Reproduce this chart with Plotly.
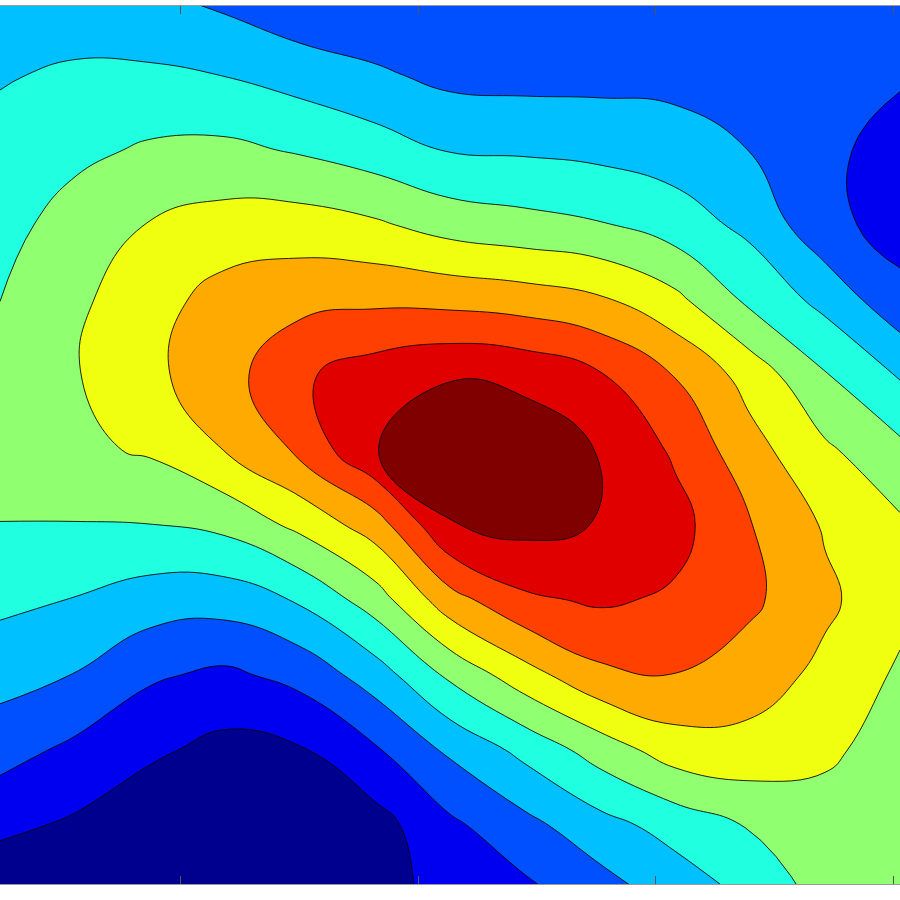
import plotly.graph_objects as go

# Grid positions (pixel-like data units)
x_vals = [0, 75, 150, 225, 300, 375, 450, 525, 600, 675, 750, 825, 900]
y_vals = [0, 75, 150, 225, 300, 375, 450, 525, 600, 675, 750, 825, 900]

# Field values, one list per row (top to bottom)
z_y0   = [3.58, 3.50, 3.20, 2.77, 2.20, 2.10, 2.20, 2.20, 2.15, 2.10, 2.20, 2.20, 2.30]
z_y75  = [3.93, 4.13, 4.16, 3.98, 3.59, 3.16, 2.73, 2.66, 2.68, 2.66, 2.40, 2.15, 2.10]
z_y150 = [4.28, 4.75, 5.14, 5.22, 4.90, 4.47, 3.94, 3.87, 3.73, 3.51, 2.98, 2.20, 1.65]
z_y225 = [4.63, 5.45, 6.05, 6.40, 6.45, 6.15, 5.60, 5.33, 5.08, 4.50, 3.75, 2.30, 1.60]
z_y300 = [4.99, 5.80, 6.60, 7.40, 7.70, 7.80, 7.70, 7.50, 7.14, 6.26, 4.78, 3.70, 2.30]
z_y375 = [5.50, 5.93, 6.78, 7.60, 8.85, 9.50, 9.94, 9.75, 9.08, 7.96, 6.60, 5.07, 3.91]
z_y450 = [5.40, 5.80, 6.12, 7.03, 8.20, 9.97, 10.60, 10.60, 9.95, 8.85, 7.37, 6.17, 5.24]
z_y525 = [4.98, 4.96, 4.98, 5.26, 6.26, 7.50, 9.95, 10.30, 9.95, 9.35, 8.05, 6.90, 6.15]
z_y600 = [4.23, 3.96, 3.51, 3.44, 4.11, 5.50, 7.60, 8.82, 9.14, 8.85, 8.20, 7.20, 6.30]
z_y675 = [3.38, 2.97, 2.14, 1.80, 2.32, 3.49, 5.20, 6.60, 7.77, 7.98, 7.50, 6.75, 5.85]
z_y750 = [2.39, 1.78, 1.18, 0.70, 0.91, 1.88, 3.18, 4.29, 5.45, 6.50, 6.64, 6.17, 5.60]
z_y825 = [1.24, 0.85, 0.27, 0.15, 0.00, 0.60, 1.80, 2.71, 3.65, 4.39, 5.08, 5.60, 5.45]
z_y900 = [0.10, 0.15, 0.00, -0.20, -0.30, 0.55, 1.40, 1.64, 2.40, 3.27, 4.10, 5.30, 5.35]

z_rows = [z_y0, z_y75, z_y150, z_y225, z_y300, z_y375, z_y450,
          z_y525, z_y600, z_y675, z_y750, z_y825, z_y900]

# Band colours (jet-like), lowest to highest
band_colors = ["#00008F", "#0000F0", "#0050FF", "#00C0FF", "#20FFE0", "#90FF70",
               "#F0FF10", "#FFAA00", "#FF4000", "#E00000", "#800000"]

tick_positions = [180, 418, 655, 893]

n = len(band_colors)
colorscale = [[i / (n - 1), c] for i, c in enumerate(band_colors)]

fig = go.Figure(go.Contour(
    x=x_vals, y=y_vals, z=z_rows,
    autocontour=False,
    contours=dict(start=1, end=10, size=1, coloring="fill"),
    colorscale=colorscale,
    line=dict(color="rgba(0,0,0,0.85)", width=1, smoothing=1.3),
    showscale=False,
    hoverinfo="skip",
))

fig.update_layout(
    width=900, height=900,
    margin=dict(l=0, r=0, t=6, b=16),
    paper_bgcolor="white", plot_bgcolor="white",
    showlegend=False,
)
fig.update_xaxes(range=[0, 900], tickvals=tick_positions, showticklabels=False,
                 ticks="inside", ticklen=8, tickwidth=1, tickcolor="#555555",
                 showline=True, linecolor="#999999", linewidth=1, mirror="ticks",
                 showgrid=False, zeroline=False)
fig.update_yaxes(range=[884, 6], showticklabels=False, ticks="", showline=False,
                 showgrid=False, zeroline=False)

fig.write_html(
    "out.html",
    config={"displayModeBar": False},
    post_script="document.body.style.margin='0';document.body.style.overflow='hidden';",
)
